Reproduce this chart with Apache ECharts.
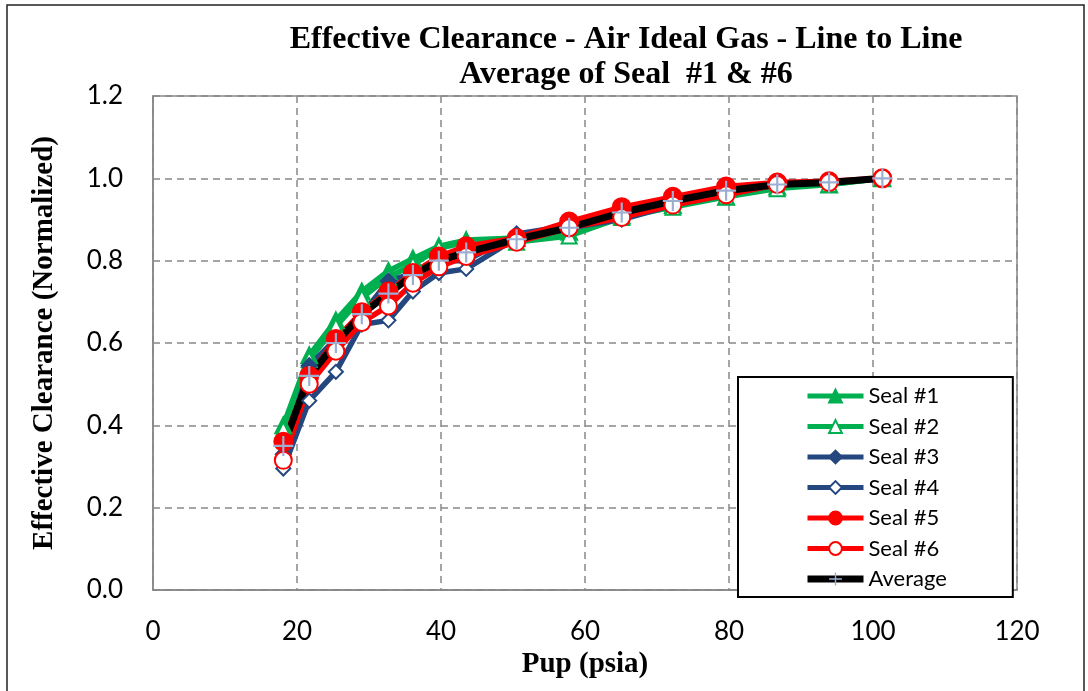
<!DOCTYPE html>
<html>
<head>
<meta charset="utf-8">
<script src="https://cdn.jsdelivr.net/npm/echarts@6/dist/echarts.min.js"></script>
<style>
html,body{margin:0;padding:0;background:#fff;}
#chart{width:1088px;height:691px;}
</style>
</head>
<body>
<div id="chart"></div>
<script>
// ---- data ----
const pup = [18.1, 21.7, 25.4, 29.0, 32.7, 36.1, 39.7, 43.5, 50.5, 57.8, 65.1, 72.2, 79.6, 86.7, 93.9, 101.3];
const seal1 = [0.40, 0.57, 0.655, 0.725, 0.775, 0.805, 0.835, 0.85, 0.855, 0.87, 0.91, 0.935, 0.955, 0.98, 0.985, 1.0];
const seal2 = [0.39, 0.56, 0.64, 0.71, 0.76, 0.79, 0.83, 0.845, 0.845, 0.86, 0.905, 0.93, 0.955, 0.975, 0.985, 1.0];
const seal3 = [0.33, 0.545, 0.61, 0.67, 0.75, 0.77, 0.80, 0.80, 0.865, 0.885, 0.92, 0.945, 0.965, 0.99, 0.99, 1.0];
const seal4 = [0.295, 0.46, 0.53, 0.645, 0.655, 0.725, 0.77, 0.78, 0.855, 0.88, 0.90, 0.935, 0.96, 0.985, 0.99, 1.0];
const seal5 = [0.36, 0.52, 0.61, 0.675, 0.725, 0.77, 0.81, 0.835, 0.855, 0.895, 0.93, 0.955, 0.98, 0.99, 0.993, 1.0];
const seal6 = [0.315, 0.50, 0.58, 0.65, 0.69, 0.745, 0.785, 0.81, 0.845, 0.88, 0.905, 0.935, 0.96, 0.985, 0.99, 1.0];
const average = [0.35, 0.52, 0.60, 0.67, 0.72, 0.765, 0.80, 0.82, 0.852, 0.88, 0.917, 0.945, 0.97, 0.985, 0.99, 1.0];
const seriesNames = ['Seal #1', 'Seal #2', 'Seal #3', 'Seal #4', 'Seal #5', 'Seal #6', 'Average'];
const titleText = 'Effective Clearance - Air Ideal Gas - Line to Line\nAverage of Seal  #1 & #6';
const xName = 'Pup (psia)';
const yName = 'Effective Clearance (Normalized)';

function pairs(ys) { return pup.map((x, i) => [x, ys[i]]); }

const GREEN = '#00B050', NAVY = '#24477F', RED = '#FF0000', BLACK = '#000000', PLUS = '#9CAFD3';
const plusPath = 'path://M0,8.9H20V11.1H0ZM8.9,0H11.1V20H8.9Z';

function mk(name, data, color, symbol, size, width, extra) {
  return Object.assign({
    name: name, type: 'line', data: pairs(data),
    symbol: symbol, symbolSize: size, showAllSymbol: true,
    lineStyle: { color: color, width: width },
    itemStyle: { color: color, borderColor: color, borderWidth: 2 },
    emphasis: { disabled: true },
    animation: false
  }, extra || {});
}

const chart = echarts.init(document.getElementById('chart'));
chart.setOption({
  backgroundColor: '#ffffff',
  animation: false,
  title: {
    text: titleText,
    left: 621, top: 17, textAlign: 'center',
    textStyle: { fontFamily: 'Liberation Serif', fontWeight: 'bold', fontSize: 32, lineHeight: 35, color: '#000' }
  },
  graphic: [{
    type: 'rect', shape: { x: 7, y: 5, width: 1077, height: 700 }, silent: true, z: -10,
    style: { fill: null, stroke: '#222', lineWidth: 1.5 }
  }],
  grid: { left: 153, top: 96, right: 71, bottom: 101, show: true, borderColor: '#888', borderWidth: 1.5, backgroundColor: 'transparent' },
  xAxis: {
    type: 'value', min: 0, max: 120, interval: 20,
    name: xName, nameLocation: 'middle', nameGap: 59,
    nameTextStyle: { fontFamily: 'Liberation Serif', fontWeight: 'bold', fontSize: 29, color: '#000' },
    axisLine: { show: true, lineStyle: { color: '#888', width: 1.5 } },
    axisTick: { show: false },
    axisLabel: { fontFamily: 'Lato', fontSize: 26, color: '#000', margin: 29 },
    splitLine: { show: true, lineStyle: { color: '#888', width: 1.5, type: [7, 5] } }
  },
  yAxis: {
    type: 'value', min: 0, max: 1.2, interval: 0.2,
    name: yName, nameLocation: 'middle', nameGap: 94,
    nameTextStyle: { fontFamily: 'Liberation Serif', fontWeight: 'bold', fontSize: 29, color: '#000' },
    axisLine: { show: true, lineStyle: { color: '#888', width: 1.5 } },
    axisTick: { show: false },
    axisLabel: { fontFamily: 'Lato', fontSize: 26, color: '#000', margin: 30, formatter: v => v.toFixed(1) },
    splitLine: { show: true, lineStyle: { color: '#888', width: 1.5, type: [7, 5] } }
  },
  legend: {
    data: seriesNames.map((n, i) => ({ name: n, lineStyle: { width: i === 6 ? 7 : 5 } })),
    orient: 'vertical', left: 738, top: 377,
    padding: [8, 66, 7, 66],
    itemWidth: 56, itemHeight: 16, itemGap: 8.5,
    backgroundColor: '#fff', borderColor: '#000', borderWidth: 2,
    textStyle: { fontFamily: 'Lato', fontSize: 22, color: '#000' },
    selectedMode: false, z: 20
  },
  series: [
    mk(seriesNames[0], seal1, GREEN, 'triangle', 16, 5.5),
    mk(seriesNames[1], seal2, GREEN, 'emptyTriangle', 15, 5.5),
    mk(seriesNames[2], seal3, NAVY, 'diamond', 15, 5.5),
    mk(seriesNames[3], seal4, NAVY, 'emptyDiamond', 14, 5.5),
    mk(seriesNames[4], seal5, RED, 'circle', 18, 5.5),
    mk(seriesNames[5], seal6, RED, 'emptyCircle', 17, 5.5),
    mk(seriesNames[6], average, BLACK, plusPath, 20, 7, { itemStyle: { color: PLUS, borderWidth: 0 } })
  ]
});
</script>
</body>
</html>
